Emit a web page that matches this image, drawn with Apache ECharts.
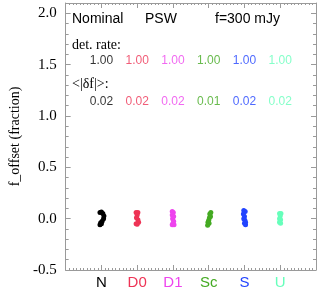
<!DOCTYPE html>
<html><head><meta charset="utf-8">
<script src="https://cdn.jsdelivr.net/npm/echarts@6/dist/echarts.min.js"></script>
<style>html,body{margin:0;padding:0;background:#fff}#c{width:327px;height:290px}</style>
</head><body><div id="c"></div>
<script>
// categories and colours
const categories = ['N', 'D0', 'D1', 'Sc', 'S', 'U'];
const colors = ['#000000', '#ee3355', '#ee44ee', '#44aa22', '#2244ff', '#66ffbb'];
const detRate = ['1.00', '1.00', '1.00', '1.00', '1.00', '1.00'];
const deltaFl = ['0.02', '0.02', '0.02', '0.01', '0.02', '0.02'];
const yTicks = [-0.5, 0.0, 0.5, 1.0, 1.5, 2.0];
// per-cluster offsets (x offset from category position, f_offset value)
const ptsN  = [[-0.04,0.06],[0.0,0.065],[0.04,0.05],[0.07,0.025],[0.06,0.0],[0.02,-0.025],[-0.02,-0.04],[-0.04,-0.06],[0.0,-0.05]];
const ptsD0 = [[-0.03,0.06],[0.02,0.06],[0.0,0.035],[-0.02,0.01],[0.02,-0.01],[0.04,-0.035],[0.0,-0.055],[-0.03,-0.05]];
const ptsD1 = [[-0.02,0.07],[0.01,0.06],[-0.02,0.035],[0.02,0.02],[-0.01,0.0],[0.02,-0.025],[0.0,-0.045],[0.03,-0.06],[-0.02,-0.06]];
const ptsSc = [[0.06,0.06],[0.03,0.045],[0.05,0.02],[0.02,0.01],[0.0,-0.015],[-0.02,-0.035],[0.01,-0.045],[-0.03,-0.065]];
const ptsS  = [[-0.02,0.08],[0.02,0.07],[-0.03,0.045],[0.0,0.02],[-0.02,0.0],[0.01,-0.015],[0.03,-0.035],[0.0,-0.045],[0.03,-0.06]];
const ptsU  = [[-0.02,0.05],[0.02,0.05],[0.0,0.025],[-0.02,0.0],[0.01,-0.01],[-0.02,-0.035],[0.01,-0.045]];
const clusters = [ptsN, ptsD0, ptsD1, ptsSc, ptsS, ptsU];
const detRow = 1.54, dflRow = 1.14;

const chart = echarts.init(document.getElementById('c'));
const axisCol = '#9a9a9a';
const rich = {};
categories.forEach((c,i)=>{ rich['c'+i] = {color: colors[i], fontSize: 15, fontFamily: 'Liberation Sans, Arial, sans-serif'}; });

const series = [];
clusters.forEach((pts, i) => {
  series.push({
    type: 'scatter', xAxisIndex: 0, yAxisIndex: 0,
    symbolSize: 5, itemStyle: {color: colors[i], opacity: 1},
    data: pts.map(p => [i + 1 + p[0], p[1]]), silent: true
  });
});
const labelSeries = (vals, yv) => ({
  type: 'scatter', symbolSize: 0, silent: true,
  data: vals.map((v,i)=>({value:[i+1, yv], label:{show:true, formatter: v, color: colors[i]}})),
  label: {show: true, position: 'inside', fontSize: 12, fontFamily: 'Liberation Sans, Arial, sans-serif'}
});
series.push(labelSeries(detRate, detRow));
series.push(labelSeries(deltaFl, dflRow));

const xBase = {
  type: 'value', min: 0, max: 7, interval: 1,
  axisLine: {show: true, onZero: false, lineStyle: {color: axisCol, width: 1}},
  axisTick: {show: true, inside: true, length: 5, lineStyle: {color: axisCol}},
  minorTick: {show: true, splitNumber: 10, length: 2, lineStyle: {color: axisCol}},
  splitLine: {show: false}
};
const yBase = {
  type: 'value', min: -0.5, max: 2.1, interval: 0.5,
  axisLine: {show: true, onZero: false, lineStyle: {color: axisCol, width: 1}},
  axisTick: {show: true, inside: true, length: 5, lineStyle: {color: axisCol}},
  minorTick: {show: true, splitNumber: 5, length: 3, lineStyle: {color: axisCol}},
  splitLine: {show: false}
};

chart.setOption({
  animation: false,
  grid: {left: 61, top: 3, right: 11, bottom: 20},
  xAxis: [
    Object.assign({}, xBase, {position: 'bottom',
      axisLabel: {show: true, margin: 5, rich: rich,
        formatter: v => { const k = Math.round(v) - 1; return (k >= 0 && k < categories.length && Math.abs(v-k-1)<1e-6) ? '{c'+k+'|'+categories[k]+'}' : ''; }}}),
    Object.assign({}, xBase, {position: 'top', axisLabel: {show: false}})
  ],
  yAxis: [
    Object.assign({}, yBase, {position: 'left',
      name: 'f_offset (fraction)', nameLocation: 'middle', nameGap: 40, nameRotate: 90,
      nameTextStyle: {fontFamily: 'Liberation Serif, Times New Roman, serif', fontSize: 14, color: '#000'},
      axisLabel: {show: true, margin: 9, color: '#000', fontSize: 15, fontFamily: 'Liberation Serif, Times New Roman, serif',
        formatter: v => { const t = yTicks.find(x => Math.abs(x - v) < 1e-6); return t === undefined ? '' : t.toFixed(1); }}}),
    Object.assign({}, yBase, {position: 'right', axisLabel: {show: false}})
  ],
  graphic: [
    {type: 'text', left: 72, top: 12, style: {text: 'Nominal', fontSize: 14, fill: '#000', fontFamily: 'Liberation Sans, Arial, sans-serif'}},
    {type: 'text', left: 145, top: 12, style: {text: 'PSW', fontSize: 14, fill: '#000', fontFamily: 'Liberation Sans, Arial, sans-serif'}},
    {type: 'text', left: 215, top: 12, style: {text: 'f=300 mJy', fontSize: 14, fill: '#000', fontFamily: 'Liberation Sans, Arial, sans-serif'}},
    {type: 'text', left: 72, top: 38, style: {text: 'det. rate:', fontSize: 14, fill: '#000', fontFamily: 'Liberation Serif, Times New Roman, serif'}},
    {type: 'text', left: 72, top: 77, style: {text: '<|δf|>:', fontSize: 14, fill: '#000', fontFamily: 'Liberation Serif, Times New Roman, serif'}}
  ],
  series: series
});
</script></body></html>
